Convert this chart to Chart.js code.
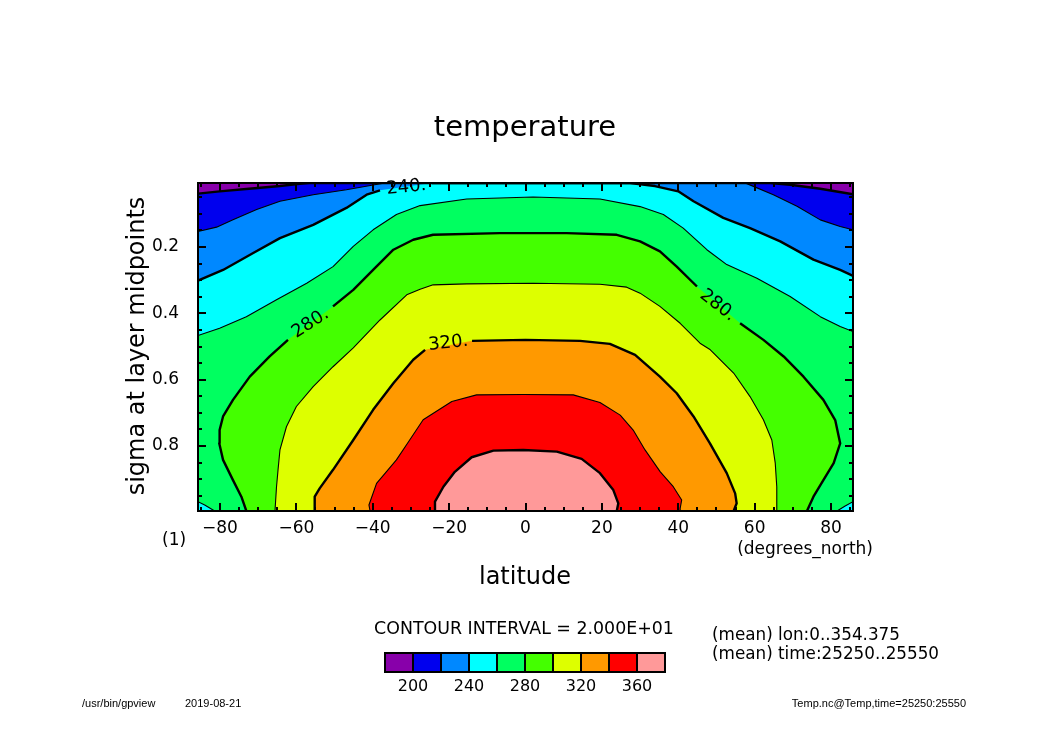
<!DOCTYPE html>
<html><head><meta charset="utf-8">
<script src="https://cdn.jsdelivr.net/npm/chart.js@4.4.1/dist/chart.umd.min.js"></script>
<style>html,body{margin:0;padding:0;background:#fff;}#wrap{width:1050px;height:742px;}</style>
</head><body><div id="wrap"><canvas id="c" width="1050" height="742"></canvas></div>
<script>
// ---- axis ranges / ticks ----
const LAT_MIN = -85.76, LAT_MAX = 85.76;
const SIG_TOP = 0.0068, SIG_BOT = 0.9962;
const latTicks = [-80, -60, -40, -20, 0, 20, 40, 60, 80];
const sigTicks = [0.2, 0.4, 0.6, 0.8];
// ---- contour levels and shading colours ----
const levels = [200, 220, 240, 260, 280, 300, 320, 340, 360];
const colors = ['#8800aa', '#0000ee', '#0088ff', '#00ffff', '#00ff60', '#44ff00', '#ddff00', '#ff9900', '#ff0000', '#ff9999'];
const legendLabels = ['200', '240', '280', '320', '360'];
const T = SIG_TOP, B = SIG_BOT;
// ---- contour lines: [latitude, sigma]; null = gap for label ----
const c200 = [[-85.76,0.039],[-80.1,0.032],[-72.4,0.024],[-64.3,0.016],[-59.1,0.009],[-56.5,T],[64.1,T],[69.3,0.012],[77.2,0.024],[85.76,0.041]];
const c220 = [[-85.76,0.153],[-80.9,0.140],[-76.6,0.118],[-70.4,0.087],[-64.3,0.062],[-55.6,0.042],[-46.9,0.027],[-39.9,0.013],[-36.8,T],[57.5,T],[59.7,0.017],[64.9,0.042],[71.1,0.077],[77.2,0.118],[82.4,0.138],[85.76,0.148]];
const c240 = [[-85.76,0.301],[-79.2,0.269],[-71.3,0.218],[-64.3,0.173],[-55.6,0.133],[-46.9,0.082],[-41.6,0.042],[-38.1,0.029],null,[-24.5,T],[27.4,T],[33.9,0.016],[40.0,0.032],[44.0,0.062],[51.8,0.112],[58.8,0.143],[66.7,0.183],[75.4,0.238],[82.4,0.269],[85.76,0.287]];
const c260 = [[-85.76,0.467],[-80.1,0.445],[-73.1,0.410],[-65.2,0.359],[-57.3,0.309],[-50.4,0.259],[-45.1,0.198],[-39.9,0.148],[-33.8,0.102],[-27.6,0.075],[-15.4,0.055],[2.0,0.049],[19.5,0.055],[30.0,0.078],[36.1,0.102],[41.3,0.143],[47.5,0.208],[52.7,0.253],[60.6,0.294],[69.3,0.349],[77.2,0.410],[82.4,0.440],[85.76,0.455]];
const c260L = [[-81.4,B],[-84.0,0.978],[-85.76,0.968]];
const c260R = [[85.76,0.968],[83.7,0.981],[81.6,B]];
const c280 = [[-73.1,B],[-74.4,0.953],[-76.6,0.903],[-79.2,0.842],[-80.2,0.792],[-80.1,0.752],[-79.2,0.711],[-76.6,0.661],[-72.2,0.591],[-67.0,0.530],[-62.2,0.480],null,[-50.4,0.379],[-45.1,0.329],[-39.9,0.269],[-34.6,0.208],[-29.4,0.178],[-24.2,0.163],[-6.7,0.158],[10.8,0.158],[23.9,0.163],[30.0,0.183],[35.2,0.213],[39.6,0.259],[44.9,0.319],null,[56.2,0.430],[62.3,0.480],[67.6,0.530],[72.8,0.591],[78.0,0.661],[81.1,0.722],[82.4,0.792],[80.7,0.852],[78.0,0.903],[75.4,0.953],[73.7,B]];
const c300 = [[-65.6,B],[-65.2,0.923],[-64.8,0.872],[-64.3,0.812],[-62.6,0.742],[-60.0,0.681],[-55.6,0.621],[-50.4,0.561],[-45.1,0.504],[-38.1,0.420],[-31.1,0.344],[-27.6,0.327],[-24.2,0.314],[-15.4,0.311],[2.0,0.309],[19.5,0.312],[26.5,0.321],[30.0,0.339],[35.2,0.379],[40.5,0.430],[45.7,0.490],[48.4,0.510],[54.5,0.580],[58.8,0.651],[62.3,0.721],[64.5,0.782],[65.4,0.852],[65.8,0.923],[65.8,B]];
const c320 = [[-55.2,B],[-55.2,0.953],[-53.9,0.928],[-50.4,0.872],[-45.1,0.782],[-39.9,0.691],[-34.6,0.611],[-29.4,0.540],[-26.3,0.510],null,[-14.0,0.483],[0,0.480],[14.3,0.483],[22.1,0.492],[28.7,0.525],[35.2,0.591],[39.6,0.641],[44.0,0.711],[48.3,0.792],[52.7,0.882],[54.9,0.943],[55.3,0.973],[54.5,B]];
const c340 = [[-40.7,B],[-41.0,0.978],[-39.0,0.913],[-33.8,0.842],[-30.5,0.785],[-26.8,0.721],[-19.3,0.666],[-12.8,0.646],[-0.6,0.645],[12.5,0.646],[19.5,0.669],[24.8,0.707],[28.2,0.752],[31.3,0.812],[35.3,0.878],[38.7,0.923],[40.9,0.963],[40.5,0.988],[40.5,B]];
const c360 = [[-23.7,B],[-23.7,0.968],[-21.5,0.923],[-18.5,0.878],[-14.1,0.834],[-8.4,0.814],[-0.6,0.812],[8.2,0.817],[14.7,0.839],[19.5,0.882],[23.0,0.933],[24.3,0.973],[23.9,B]];
// ---- contour labels ----
const labelText = ['240.', '280.', '280.', '320.'];
const labelLat = [-31.2, -56.3, 50.3, -20.2];
const labelSig = [0.020, 0.430, 0.376, 0.490];
const labelAngle = [-6, -33, 38, -6];

const contours = [
  {main: c200}, {main: c220}, {main: c240}, {main: c260, left: c260L, right: c260R},
  {main: c280}, {main: c300}, {main: c320}, {main: c340}, {main: c360}
];
const toXY = p => ({x: p[0], y: p[1]});
function polygonFor(c) {
  const pts = c.main.filter(p => p);
  const r = c.right || [[LAT_MAX, SIG_BOT]];
  const l = c.left || [[LAT_MIN, SIG_BOT]];
  return pts.concat(r, l).map(toXY);
}
function piecesFor(c) {
  const out = []; let cur = [];
  c.main.forEach(p => { if (p) cur.push(toXY(p)); else { out.push(cur); cur = []; } });
  out.push(cur);
  if (c.left) out.push(c.left.map(toXY));
  if (c.right) out.push(c.right.map(toXY));
  return out;
}
const datasets = [];
contours.forEach((c, k) => {
  datasets.push({data: polygonFor(c), fill: 'shape', backgroundColor: colors[k + 1],
    borderWidth: 0, borderColor: 'rgba(0,0,0,0)', pointRadius: 0, pointHoverRadius: 0, order: 100 - k});
});
contours.forEach((c, k) => {
  const thick = (levels[k] % 40) === 0;
  piecesFor(c).forEach(piece => datasets.push({data: piece, fill: false, borderColor: '#000',
    borderWidth: thick ? 2.4 : 1.1, pointRadius: 0, pointHoverRadius: 0, order: 0,
    borderJoinStyle: 'round', borderCapStyle: 'butt'}));
});

const FONT = '"DejaVu Sans", sans-serif';
const decorPlugin = {
  id: 'decor',
  beforeDatasetsDraw(chart) {
    const {ctx, chartArea: a} = chart;
    ctx.save(); ctx.fillStyle = colors[0];
    ctx.fillRect(a.left, a.top, a.right - a.left, a.bottom - a.top); ctx.restore();
  },
  afterDatasetsDraw(chart) {
    const {ctx, chartArea: a, scales: {x, y}} = chart;
    ctx.save();
    // contour labels
    ctx.fillStyle = '#000'; ctx.font = '18px ' + FONT; ctx.textAlign = 'center'; ctx.textBaseline = 'middle';
    labelText.forEach((t, i) => {
      ctx.save();
      ctx.translate(x.getPixelForValue(labelLat[i]), y.getPixelForValue(labelSig[i]));
      ctx.rotate(labelAngle[i] * Math.PI / 180);
      ctx.fillText(t, 0, 0); ctx.restore();
    });
    // frame and inward ticks
    ctx.strokeStyle = '#000'; ctx.lineWidth = 2;
    ctx.strokeRect(a.left, a.top, a.right - a.left, a.bottom - a.top);
    ctx.beginPath();
    for (let lat = -85; lat <= 85; lat += 5) {
      const px = Math.round(x.getPixelForValue(lat));
      const len = lat % 20 === 0 ? 8 : 4;
      ctx.moveTo(px, a.bottom); ctx.lineTo(px, a.bottom - len);
      ctx.moveTo(px, a.top); ctx.lineTo(px, a.top + len);
    }
    for (let i = 1; i <= 19; i++) {
      const s = i * 0.05;
      const py = Math.round(y.getPixelForValue(s));
      const len = i % 4 === 0 ? 8 : 4;
      ctx.moveTo(a.left, py); ctx.lineTo(a.left + len, py);
      ctx.moveTo(a.right, py); ctx.lineTo(a.right - len, py);
    }
    ctx.stroke();
    ctx.restore();
  },
  afterDraw(chart) {
    const {ctx} = chart;
    ctx.save();
    ctx.fillStyle = '#000'; ctx.textAlign = 'center'; ctx.textBaseline = 'middle';
    ctx.font = '29px ' + FONT; ctx.fillText('temperature', 525, 128);
    ctx.font = '24px ' + FONT; ctx.fillText('latitude', 525, 578);
    ctx.save(); ctx.translate(138, 346); ctx.rotate(-Math.PI / 2);
    ctx.fillText('sigma at layer midpoints', 0, 0); ctx.restore();
    ctx.font = '17px ' + FONT; ctx.textAlign = 'left'; ctx.fillText('(1)', 162, 541);
    ctx.textAlign = 'right'; ctx.fillText('(degrees_north)', 873, 550);
    ctx.textAlign = 'center'; ctx.font = '17.4px ' + FONT;
    ctx.fillText('CONTOUR INTERVAL = 2.000E+01', 524, 629);
    ctx.textAlign = 'left'; ctx.font = '16.8px ' + FONT;
    ctx.fillText('(mean) lon:0..354.375', 712, 636);
    ctx.fillText('(mean) time:25250..25550', 712, 655);
    // colour bar
    const bx = 385, bw = 28, by = 653, bh = 19;
    colors.forEach((c, i) => { ctx.fillStyle = c; ctx.fillRect(bx + i * bw, by, bw, bh); });
    ctx.strokeStyle = '#000'; ctx.lineWidth = 2;
    colors.forEach((c, i) => ctx.strokeRect(bx + i * bw, by, bw, bh));
    ctx.fillStyle = '#000'; ctx.textAlign = 'center'; ctx.font = '16px ' + FONT;
    legendLabels.forEach((t, j) => ctx.fillText(t, bx + (2 * j + 1) * bw, 687));
    // footer
    ctx.font = '11px "Liberation Sans", sans-serif'; ctx.textAlign = 'left';
    ctx.fillText('/usr/bin/gpview', 82, 704);
    ctx.fillText('2019-08-21', 185, 704);
    ctx.textAlign = 'right'; ctx.fillText('Temp.nc@Temp,time=25250:25550', 966, 704);
    ctx.restore();
  }
};

new Chart(document.getElementById('c'), {
  type: 'line',
  data: {datasets},
  options: {
    responsive: false, animation: false, devicePixelRatio: 1, events: [],
    layout: {padding: {top: 183, right: 197, bottom: 0, left: 0}},
    plugins: {legend: {display: false}, tooltip: {enabled: false}, title: {display: false}},
    scales: {
      x: {type: 'linear', min: LAT_MIN, max: LAT_MAX,
        afterFit: s => { s.height = 231; },
        afterBuildTicks: s => { s.ticks = latTicks.map(v => ({value: v})); },
        grid: {display: false, drawTicks: false}, border: {display: false},
        ticks: {autoSkip: false, maxRotation: 0, minRotation: 0, padding: 7, color: '#000',
          font: {family: 'DejaVu Sans', size: 17},
          callback: v => v < 0 ? '\u2212' + Math.abs(v) : String(v)}},
      y: {type: 'linear', reverse: true, min: SIG_TOP, max: SIG_BOT,
        afterFit: s => { s.width = 198; },
        afterBuildTicks: s => { s.ticks = sigTicks.map(v => ({value: v})); },
        grid: {display: false, drawTicks: false}, border: {display: false},
        ticks: {autoSkip: false, padding: 19, color: '#000',
          font: {family: 'DejaVu Sans', size: 17},
          callback: v => Number(v).toFixed(1)}}
    }
  },
  plugins: [decorPlugin]
});
</script></body></html>
